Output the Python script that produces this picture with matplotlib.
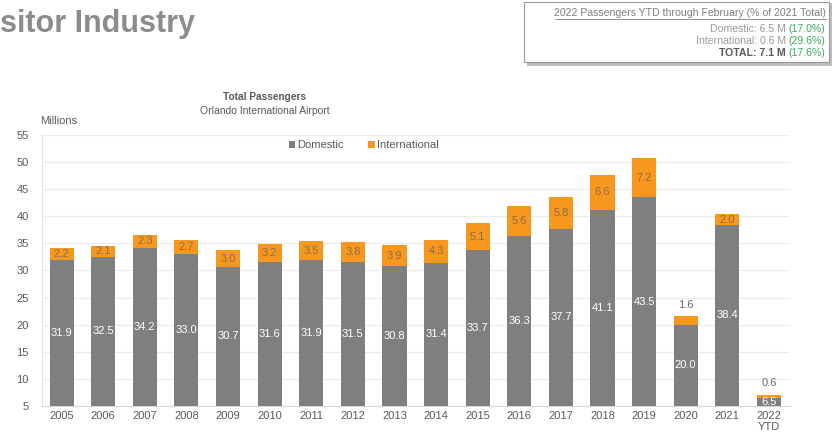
import matplotlib
matplotlib.use('Agg')
from matplotlib import pyplot as plt
from matplotlib.patches import Rectangle
import numpy as np

plt.rcParams['font.family'] = ['Liberation Sans', 'DejaVu Sans']

years = ['2005', '2006', '2007', '2008', '2009', '2010', '2011', '2012', '2013',
         '2014', '2015', '2016', '2017', '2018', '2019', '2020', '2021', '2022\nYTD']
domestic = [31.9, 32.5, 34.2, 33.0, 30.7, 31.6, 31.9, 31.5, 30.8,
            31.4, 33.7, 36.3, 37.7, 41.1, 43.5, 20.0, 38.4, 6.5]
international = [2.2, 2.1, 2.3, 2.7, 3.0, 3.2, 3.5, 3.8, 3.9,
                 4.3, 5.1, 5.6, 5.8, 6.6, 7.2, 1.6, 2.0, 0.6]
labels_above = [15, 17]  # international labels drawn above the bar

grey = '#7f7f7f'
orange = '#f7971e'

fig = plt.figure(figsize=(8.33, 4.41), dpi=100)
ax = fig.add_axes([0.051, 0.0794, 0.897, 0.6145])

x = np.arange(len(years))
w = 0.58
ymin = 5
ax.bar(x, domestic, w, color=grey, zorder=3, label='Domestic')
ax.bar(x, international, w, bottom=domestic, color=orange, zorder=3, label='International')

for i in range(len(years)):
    d = domestic[i]
    t = d + international[i]
    ax.text(x[i], (ymin + d) / 2, '%.1f' % d, ha='center', va='center',
            color='white', fontsize=8, zorder=4)
    if i in labels_above:
        ax.text(x[i], t + 1.2, '%.1f' % international[i], ha='center', va='bottom',
                color='#666666', fontsize=8, zorder=4)
    else:
        ax.text(x[i], d + international[i] / 2, '%.1f' % international[i], ha='center',
                va='center', color='#8a6e4c', fontsize=8, zorder=4)

ax.set_ylim(ymin, 55)
ax.set_xlim(-0.46, 17.5)
ax.set_yticks(range(5, 56, 5))
ax.set_xticks(x)
ax.set_xticklabels(years)
ax.tick_params(axis='both', length=0, labelsize=8, labelcolor='#595959')
ax.tick_params(axis='y', pad=10)
ax.grid(axis='y', color='#ececec', lw=0.8, zorder=0)
for s in ['top', 'right']:
    ax.spines[s].set_visible(False)
ax.spines['left'].set_color('#e0e0e0')
ax.spines['bottom'].set_color('#d9d9d9')

ax.legend(loc='upper center', bbox_to_anchor=(0.43, 1.018), ncol=2, frameon=False,
          fontsize=8, handlelength=0.6, handleheight=0.6, handletextpad=0.2,
          columnspacing=2.2, labelcolor='#595959')

fig.text(0.048, 0.718, 'Millions', fontsize=8, color='#595959')
fig.text(0.318, 0.774, 'Total Passengers', fontsize=7.3, fontweight='bold',
         color='#595959', ha='center')
fig.text(0.318, 0.742, 'Orlando International Airport', fontsize=7.5,
         color='#595959', ha='center')

fig.text(0.0, 0.945, 'sitor Industry', fontsize=22, fontweight='bold',
         color='#8c8c8c', va='center')

# summary box top right
fig.patches.append(Rectangle((0.633, 0.851), 0.366, 0.143, transform=fig.transFigure,
                             facecolor='#bdbdbd', edgecolor='none', zorder=1))
fig.patches.append(Rectangle((0.629, 0.859), 0.366, 0.137, transform=fig.transFigure,
                             facecolor='white', edgecolor='#9a9a9a', lw=0.8, zorder=2))
rx = 0.991
fs = 7.6
fig.text(rx, 0.971, '2022 Passengers YTD through February (% of 2021 Total)',
         fontsize=fs, color='#7f7f7f', ha='right', va='center', zorder=3)
fig.add_artist(plt.Line2D([0.666, rx], [0.956, 0.956], transform=fig.transFigure,
                          color='#7f7f7f', lw=0.6, zorder=3))
green = '#3aaa5c'
rows = [(0.934, 'Domestic: 6.5 M ', '(17.0%)', 'normal'),
        (0.907, 'International: 0.6 M ', '(29.6%)', 'normal'),
        (0.880, 'TOTAL: 7.1 M ', '(17.6%)', 'bold')]
for yy, a, b, fw in rows:
    tb = fig.text(rx, yy, b, fontsize=fs, color=green, ha='right', va='center', zorder=3)
    fig.canvas.draw()
    bb = tb.get_window_extent().transformed(fig.transFigure.inverted())
    fig.text(bb.x0, yy, a, fontsize=fs, color='#9a9a9a' if fw == 'normal' else '#595959',
             fontweight=fw, ha='right', va='center', zorder=3)

fig.savefig('out.png', dpi=100)
